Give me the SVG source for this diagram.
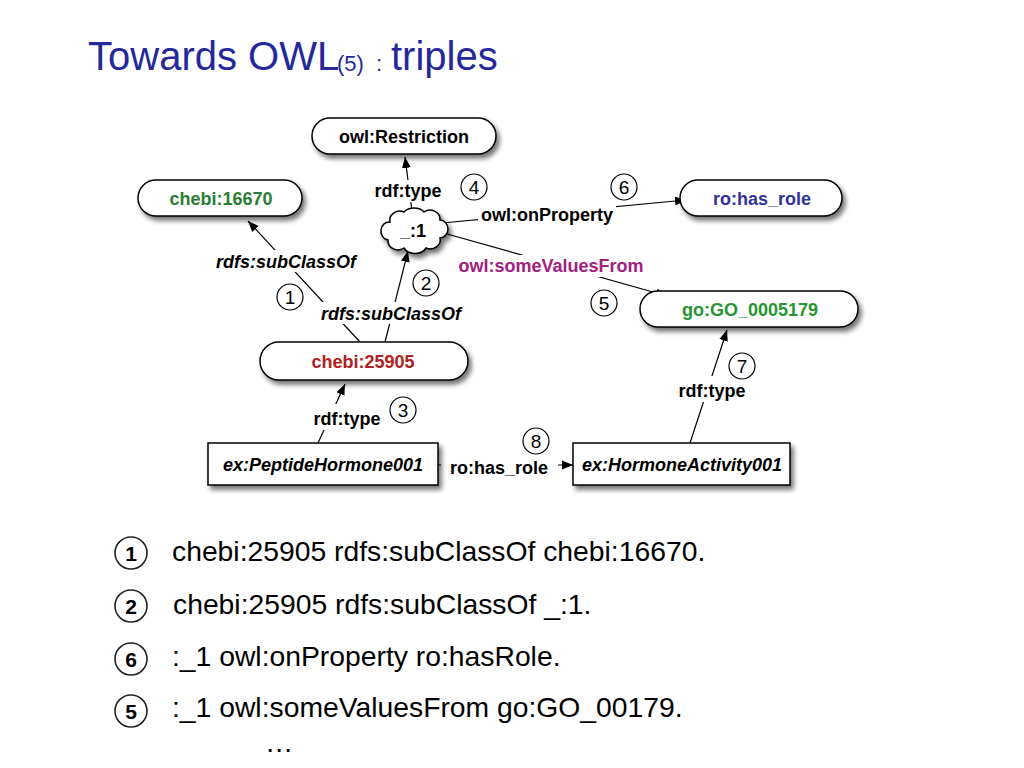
<svg xmlns="http://www.w3.org/2000/svg" width="1024" height="768" viewBox="0 0 1024 768">
<defs>
<filter id="sh" x="-20%" y="-30%" width="150%" height="180%">
<feGaussianBlur in="SourceAlpha" stdDeviation="2.5"/>
<feOffset dx="3" dy="4" result="b"/>
<feComponentTransfer><feFuncA type="linear" slope="0.55"/></feComponentTransfer>
<feMerge><feMergeNode/><feMergeNode in="SourceGraphic"/></feMerge>
</filter>
<marker id="ar" viewBox="0 0 10 10" refX="10" refY="5" markerWidth="11" markerHeight="11" markerUnits="userSpaceOnUse" orient="auto">
<path d="M0,1 L10,5 L0,9 z" fill="#000"/>
</marker>
</defs>
<style>
.node{fill:#fff;stroke:#000;stroke-width:1.5}
.nl{font-family:"Liberation Sans",Arial,sans-serif;font-weight:bold;font-size:18px;text-anchor:middle}
.il{font-family:"Liberation Sans",Arial,sans-serif;font-style:italic;font-weight:bold;font-size:18px;text-anchor:middle}
.el{font-family:"Liberation Sans",Arial,sans-serif;font-weight:bold;font-size:18px;text-anchor:middle}
.eli{font-family:"Liberation Sans",Arial,sans-serif;font-style:italic;font-weight:bold;font-size:18px;text-anchor:middle}
.edge{stroke:#000;stroke-width:1.2;fill:none}
.nc{fill:#fff;stroke:#000;stroke-width:1.2}
.nt{font-family:"Liberation Sans",Arial,sans-serif;font-size:19px;text-anchor:middle}
.lc{fill:#fff;stroke:#222;stroke-width:1.6}
.lt{font-family:"Liberation Sans",Arial,sans-serif;font-size:21px;font-weight:bold;text-anchor:middle}
.tx{font-family:"Liberation Sans",Arial,sans-serif;font-size:28.3px;fill:#000}
</style>
<rect width="1024" height="768" fill="#fff"/>
<g id="title" fill="#25289a" font-family="Liberation Sans, Arial, sans-serif">
<text x="88" y="70" font-size="40">Towards OWL</text>
<text x="337" y="71" font-size="22">(5)</text>
<text x="376" y="71" font-size="22">:</text>
<text x="391" y="70" font-size="40">triples</text>
</g>

<g id="connectors">
<line class="edge" x1="360" y1="342" x2="248" y2="221" marker-end="url(#ar)"/>
<line class="edge" x1="385" y1="342" x2="408" y2="251" marker-end="url(#ar)"/>
<line class="edge" x1="318" y1="443" x2="345" y2="384" marker-end="url(#ar)"/>
<line class="edge" x1="412" y1="211" x2="405" y2="157" marker-end="url(#ar)"/>
<line class="edge" x1="440" y1="232" x2="667" y2="296" marker-end="url(#ar)"/>
<line class="edge" x1="442" y1="223" x2="686" y2="200" marker-end="url(#ar)"/>
<line class="edge" x1="690" y1="443" x2="727" y2="330" marker-end="url(#ar)"/>
<line class="edge" x1="438" y1="465" x2="573" y2="465" marker-end="url(#ar)"/>
<rect x="212" y="250" width="150" height="22" fill="#fff"/>
<rect x="316" y="302" width="150" height="22" fill="#fff"/>
<rect x="372" y="180" width="72" height="22" fill="#fff"/>
<rect x="478" y="204" width="138" height="22" fill="#fff"/>
<rect x="455" y="255" width="192" height="22" fill="#fff"/>
<rect x="307" y="404" width="80" height="26" fill="#fff"/>
<rect x="671" y="376" width="82" height="26" fill="#fff"/>
<rect x="441" y="453" width="117" height="26" fill="#fff"/>
<text class="eli" x="286" y="268">rdfs:subClassOf</text>
<text class="eli" x="391" y="320">rdfs:subClassOf</text>
<text class="el" x="408" y="197">rdf:type</text>
<text class="el" x="547" y="221">owl:onProperty</text>
<text class="el" x="551" y="272" fill="#a3207f">owl:someValuesFrom</text>
<text class="el" x="347" y="425" font-size="22">rdf:type</text>
<text class="el" x="712" y="397" font-size="22">rdf:type</text>
<text class="el" x="499" y="474" font-size="22">ro:has_role</text>
<circle class="nc" cx="290" cy="297" r="13"/><text class="nt" x="290" y="304">1</text>
<circle class="nc" cx="426" cy="283" r="13"/><text class="nt" x="426" y="290">2</text>
<circle class="nc" cx="403" cy="410" r="13"/><text class="nt" x="403" y="417">3</text>
<circle class="nc" cx="474" cy="187" r="13"/><text class="nt" x="474" y="194">4</text>
<circle class="nc" cx="604" cy="303" r="13"/><text class="nt" x="604" y="310">5</text>
<circle class="nc" cx="624" cy="187" r="13"/><text class="nt" x="624" y="194">6</text>
<circle class="nc" cx="742" cy="366" r="13"/><text class="nt" x="742" y="373">7</text>
<circle class="nc" cx="536" cy="441" r="13"/><text class="nt" x="536" y="448">8</text>
</g>

<g id="n-restriction">
<rect class="node" x="312" y="118" width="184" height="36" rx="18" filter="url(#sh)"/>
<text class="nl" x="404" y="143" font-size="19">owl:Restriction</text>
</g>
<g id="n-chebi16670">
<rect class="node" x="138" y="180" width="164" height="36" rx="18" filter="url(#sh)"/>
<text class="nl" x="221" y="205" font-size="20.5" fill="#2a7d33">chebi:16670</text>
</g>
<g id="n-blank">
<path class="node" filter="url(#sh)" d="M390,222 a10,9 0 0 1 14,-10 a12,9 0 0 1 20,0 a10,9 0 0 1 16,8 a8,9 0 0 1 0,18 a10,9 0 0 1 -14,10 a12,9 0 0 1 -22,0 a10,9 0 0 1 -16,-8 a8,9 0 0 1 2,-18 z"/>
<text class="nl" x="413" y="237" font-size="19">_:1</text>
</g>
<g id="n-hasrole">
<rect class="node" x="680" y="180" width="162" height="36" rx="18" filter="url(#sh)"/>
<text class="nl" x="762" y="205" font-size="20.5" fill="#32339a">ro:has_role</text>
</g>
<g id="n-go">
<rect class="node" x="640" y="291" width="218" height="36" rx="18" filter="url(#sh)"/>
<text class="nl" x="750" y="316" font-size="20.5" fill="#25952f">go:GO_0005179</text>
</g>
<g id="n-chebi25905">
<rect class="node" x="260" y="342" width="208" height="38" rx="19" filter="url(#sh)"/>
<text class="nl" x="363" y="368" font-size="19" fill="#b42121">chebi:25905</text>
</g>
<g id="n-peptide">
<rect class="node" x="208" y="443" width="230" height="42" filter="url(#sh)"/>
<text class="il" x="323" y="471">ex:PeptideHormone001</text>
</g>
<g id="n-activity">
<rect class="node" x="573" y="443" width="217" height="42" filter="url(#sh)"/>
<text class="il" x="682" y="471">ex:HormoneActivity001</text>
</g>

<g id="list">
<circle class="lc" cx="131" cy="553" r="16"/><text class="lt" x="131" y="561">1</text>
<text class="tx" x="172" y="561">chebi:25905 rdfs:subClassOf chebi:16670.</text>
<circle class="lc" cx="131" cy="606" r="16"/><text class="lt" x="131" y="614">2</text>
<text class="tx" x="173" y="614">chebi:25905 rdfs:subClassOf _:1.</text>
<circle class="lc" cx="131" cy="659" r="16"/><text class="lt" x="131" y="667">6</text>
<text class="tx" x="172" y="666">:_1 owl:onProperty ro:hasRole.</text>
<circle class="lc" cx="131" cy="711" r="16"/><text class="lt" x="131" y="719">5</text>
<text class="tx" x="172" y="717">:_1 owl:someValuesFrom go:GO_00179.</text>
<text class="tx" x="265" y="752">…</text>
</g>
</svg>
